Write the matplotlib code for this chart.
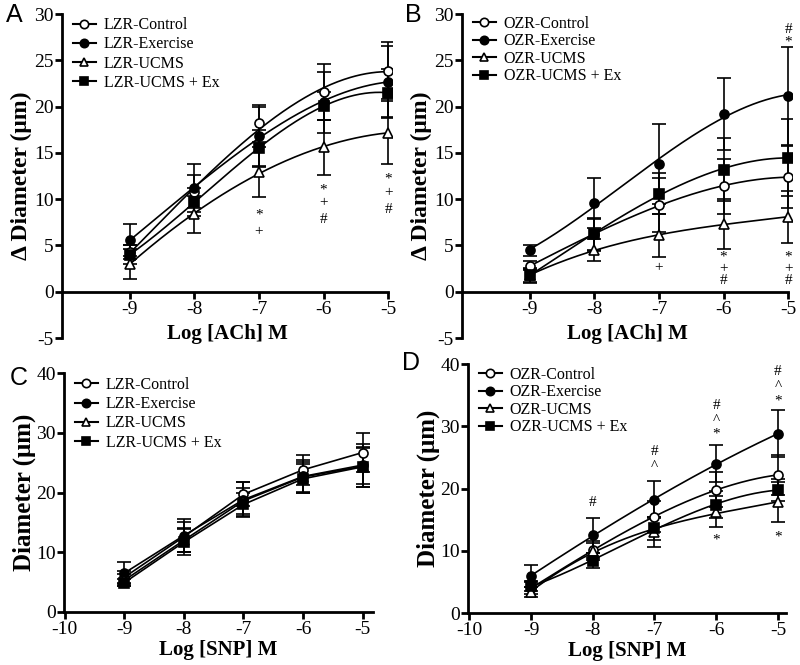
import numpy as np
import matplotlib
matplotlib.use("Agg")
import matplotlib.pyplot as plt

SERIF = ["Liberation Serif", "DejaVu Serif"]
plt.rcParams['font.family'] = SERIF
plt.rcParams['axes.unicode_minus'] = False

x_logs = [-9, -8, -7, -6, -5]

# Panel A: LZR, ACh
A_labels = ["LZR-Control", "LZR-Exercise", "LZR-UCMS", "LZR-UCMS + Ex"]
A_ctrl = [4.3, 10.8, 18.2, 21.6, 23.9]
A_ctrl_err = [0.8, 1.8, 2.0, 3.0, 3.1]
A_exer = [5.6, 11.2, 16.8, 20.5, 22.7]
A_exer_err = [1.7, 2.6, 3.2, 3.3, 3.9]
A_ucms = [3.0, 8.4, 12.9, 15.6, 17.2]
A_ucms_err = [1.6, 2.0, 2.7, 3.0, 3.4]
A_ucmsex = [4.0, 9.7, 15.5, 20.1, 21.5]
A_ucmsex_err = [1.0, 1.5, 2.0, 1.5, 2.6]
A_annot = [(-7, 8.3, "*"), (-7, 6.5, "+"),
           (-6, 11.0, "*"), (-6, 9.6, "+"), (-6, 7.8, "#"),
           (-5, 12.2, "*"), (-5, 10.7, "+"), (-5, 8.9, "#")]

# Panel B: OZR, ACh
B_labels = ["OZR-Control", "OZR-Exercise", "OZR-UCMS", "OZR-UCMS + Ex"]
B_ctrl = [2.8, 6.2, 9.4, 11.4, 12.4]
B_ctrl_err = [0.5, 1.7, 2.9, 3.0, 3.3]
B_exer = [4.5, 9.6, 13.8, 19.2, 21.2]
B_exer_err = [0.6, 2.7, 4.3, 3.9, 5.3]
B_ucms = [1.8, 4.5, 6.1, 7.3, 8.1]
B_ucms_err = [0.8, 1.2, 2.3, 2.7, 2.8]
B_ucmsex = [1.8, 6.2, 10.6, 13.2, 14.5]
B_ucmsex_err = [0.7, 1.8, 2.2, 3.4, 4.2]
B_annot = [(-7, 2.6, "+"),
           (-6, 3.8, "*"), (-6, 2.5, "+"), (-6, 1.2, "#"),
           (-5, 3.8, "*"), (-5, 2.5, "+"), (-5, 1.2, "#"),
           (-5, 28.3, "#"), (-5, 27.0, "*")]

# Panel C: LZR, SNP
C_labels = ["LZR-Control", "LZR-Exercise", "LZR-UCMS", "LZR-UCMS + Ex"]
C_ctrl = [5.8, 12.6, 19.7, 23.8, 26.7]
C_ctrl_err = [1.0, 2.5, 2.0, 2.5, 3.3]
C_exer = [6.5, 12.8, 18.8, 22.7, 24.6]
C_exer_err = [1.8, 2.8, 2.9, 2.8, 3.6]
C_ucms = [5.3, 12.0, 18.6, 22.6, 24.4]
C_ucms_err = [1.0, 2.0, 2.2, 2.5, 3.0]
C_ucmsex = [4.9, 11.7, 18.0, 22.3, 24.3]
C_ucmsex_err = [0.6, 2.2, 2.0, 2.4, 3.4]

# Panel D: OZR, SNP
D_labels = ["OZR-Control", "OZR-Exercise", "OZR-UCMS", "OZR-UCMS + Ex"]
D_ctrl = [4.0, 10.1, 15.5, 19.8, 22.2]
D_ctrl_err = [1.0, 1.5, 2.5, 2.8, 3.2]
D_exer = [6.0, 12.5, 18.2, 24.0, 28.8]
D_exer_err = [1.8, 2.8, 3.0, 3.0, 3.8]
D_ucms = [3.4, 10.0, 13.1, 16.3, 17.8]
D_ucms_err = [0.8, 1.2, 2.4, 2.5, 3.2]
D_ucmsex = [4.3, 8.4, 13.6, 17.4, 19.8]
D_ucmsex_err = [0.8, 1.2, 1.8, 2.2, 1.8]
D_annot = [(-8, 17.8, "#"),
           (-7, 25.9, "#"), (-7, 23.5, "^"),
           (-6, 33.4, "#"), (-6, 31.0, "^"), (-6, 28.8, "*"), (-6, 11.8, "*"),
           (-5, 38.8, "#"), (-5, 36.4, "^"), (-5, 34.1, "*"), (-5, 12.3, "*")]

markers = [dict(marker="o", mfc="white"), dict(marker="o", mfc="black"),
           dict(marker="^", mfc="white"), dict(marker="s", mfc="black")]

fig = plt.figure(figsize=(8, 6.65), dpi=100)


def make_panel(rect, series, errs, labels, ylim, yticks, xlim, xticks,
               ylabel, xlabel, letter, letter_xy, smooth, annot, spine_zero,
               ylabel_size, ylabel_x, xlabel_y, legend_anchor, lspacing):
    ax = fig.add_axes(rect)
    xs = np.array(x_logs, dtype=float)
    handles = []
    for ys, es, lab, mk in zip(series, errs, labels, markers):
        ys = np.array(ys)
        ax.errorbar(xs, ys, yerr=es, fmt="none", ecolor="black", elinewidth=1.2,
                    capsize=5, capthick=1.2, zorder=2)
        if smooth:
            c = np.polyfit(xs, ys, 3)
            xx = np.linspace(xs[0], xs[-1], 200)
            ax.plot(xx, np.polyval(c, xx), color="black", lw=1.2, zorder=3)
        else:
            ax.plot(xs, ys, color="black", lw=1.2, zorder=3)
        ax.plot(xs, ys, linestyle="none", marker=mk["marker"], mfc=mk["mfc"],
                mec="black", mew=1.2, ms=6.5, zorder=4)
        h, = ax.plot([], [], color="black", lw=1.5, marker=mk["marker"],
                     mfc=mk["mfc"], mec="black", mew=1.2, ms=6, label=lab)
        handles.append(h)
    ax.set_xlim(*xlim)
    ax.set_ylim(*ylim)
    ax.set_yticks(yticks)
    ax.set_xticks(xticks)
    ax.set_xticklabels([str(t) for t in xticks])
    ax.spines["top"].set_visible(False)
    ax.spines["right"].set_visible(False)
    for s in ("left", "bottom"):
        ax.spines[s].set_linewidth(2.0)
    if spine_zero:
        ax.spines["bottom"].set_position(("data", 0))
        ax.spines["bottom"].set_bounds(xlim[0], -5)
    ax.tick_params(direction="out", width=2.0, length=5, labelsize=14)
    ax.tick_params(axis="y", pad=1)
    ax.tick_params(axis="x", pad=1.5)
    ax.set_ylabel(ylabel, fontsize=ylabel_size, fontweight="bold")
    ax.yaxis.set_label_coords(ylabel_x, 0.5)
    ax.text(0.5, xlabel_y, xlabel, transform=ax.transAxes, ha="center",
            va="center", fontsize=15, fontweight="bold")
    for (xa, ya, s) in annot:
        ax.text(xa, ya, s, ha="center", va="center", fontsize=11)
    ax.legend(handles=handles, loc="upper left", bbox_to_anchor=legend_anchor,
              frameon=False, fontsize=11.5, handlelength=1.4,
              handletextpad=0.5, labelspacing=lspacing, borderpad=0.2)
    fig.text(letter_xy[0], letter_xy[1], letter, fontsize=18,
             family=["Liberation Sans", "DejaVu Sans"], ha="left", va="center")
    return ax


make_panel([0.0775, 0.4917, 0.4125, 0.487],
           [A_ctrl, A_exer, A_ucms, A_ucmsex],
           [A_ctrl_err, A_exer_err, A_ucms_err, A_ucmsex_err], A_labels,
           (-5, 30), [-5, 0, 5, 10, 15, 20, 25, 30], (-10.05, -4.94),
           [-9, -8, -7, -6, -5], "\u0394 Diameter (\u03bcm)", "Log [ACh] M",
           "A", (0.008, 0.977), True, A_annot, True, 17, -0.09, 0.012,
           (0.0, 1.025), 0.2)

make_panel([0.5775, 0.4917, 0.4125, 0.487],
           [B_ctrl, B_exer, B_ucms, B_ucmsex],
           [B_ctrl_err, B_exer_err, B_ucms_err, B_ucmsex_err], B_labels,
           (-5, 30), [-5, 0, 5, 10, 15, 20, 25, 30], (-10.05, -4.94),
           [-9, -8, -7, -6, -5], "\u0394 Diameter (\u03bcm)", "Log [ACh] M",
           "B", (0.506, 0.977), True, B_annot, True, 17, -0.09, 0.012,
           (0.0, 1.03), 0.1)

make_panel([0.08, 0.0797, 0.386, 0.3593],
           [C_ctrl, C_exer, C_ucms, C_ucmsex],
           [C_ctrl_err, C_exer_err, C_ucms_err, C_ucmsex_err], C_labels,
           (0, 40), [0, 10, 20, 30, 40], (-10.01, -4.83),
           [-10, -9, -8, -7, -6, -5], "Diameter (\u03bcm)", "Log [SNP] M",
           "C", (0.012, 0.432), False, [], False, 18, -0.09, -0.158,
           (0.0, 1.03), 0.2)

make_panel([0.585, 0.078, 0.3975, 0.3745],
           [D_ctrl, D_exer, D_ucms, D_ucmsex],
           [D_ctrl_err, D_exer_err, D_ucms_err, D_ucmsex_err], D_labels,
           (0, 40), [0, 10, 20, 30, 40], (-10.02, -4.87),
           [-10, -9, -8, -7, -6, -5], "Diameter (\u03bcm)", "Log [SNP] M",
           "D", (0.503, 0.454), True, D_annot, False, 18, -0.088, -0.152,
           (0.0, 1.035), 0.1)

fig.savefig("out.png", dpi=100)
